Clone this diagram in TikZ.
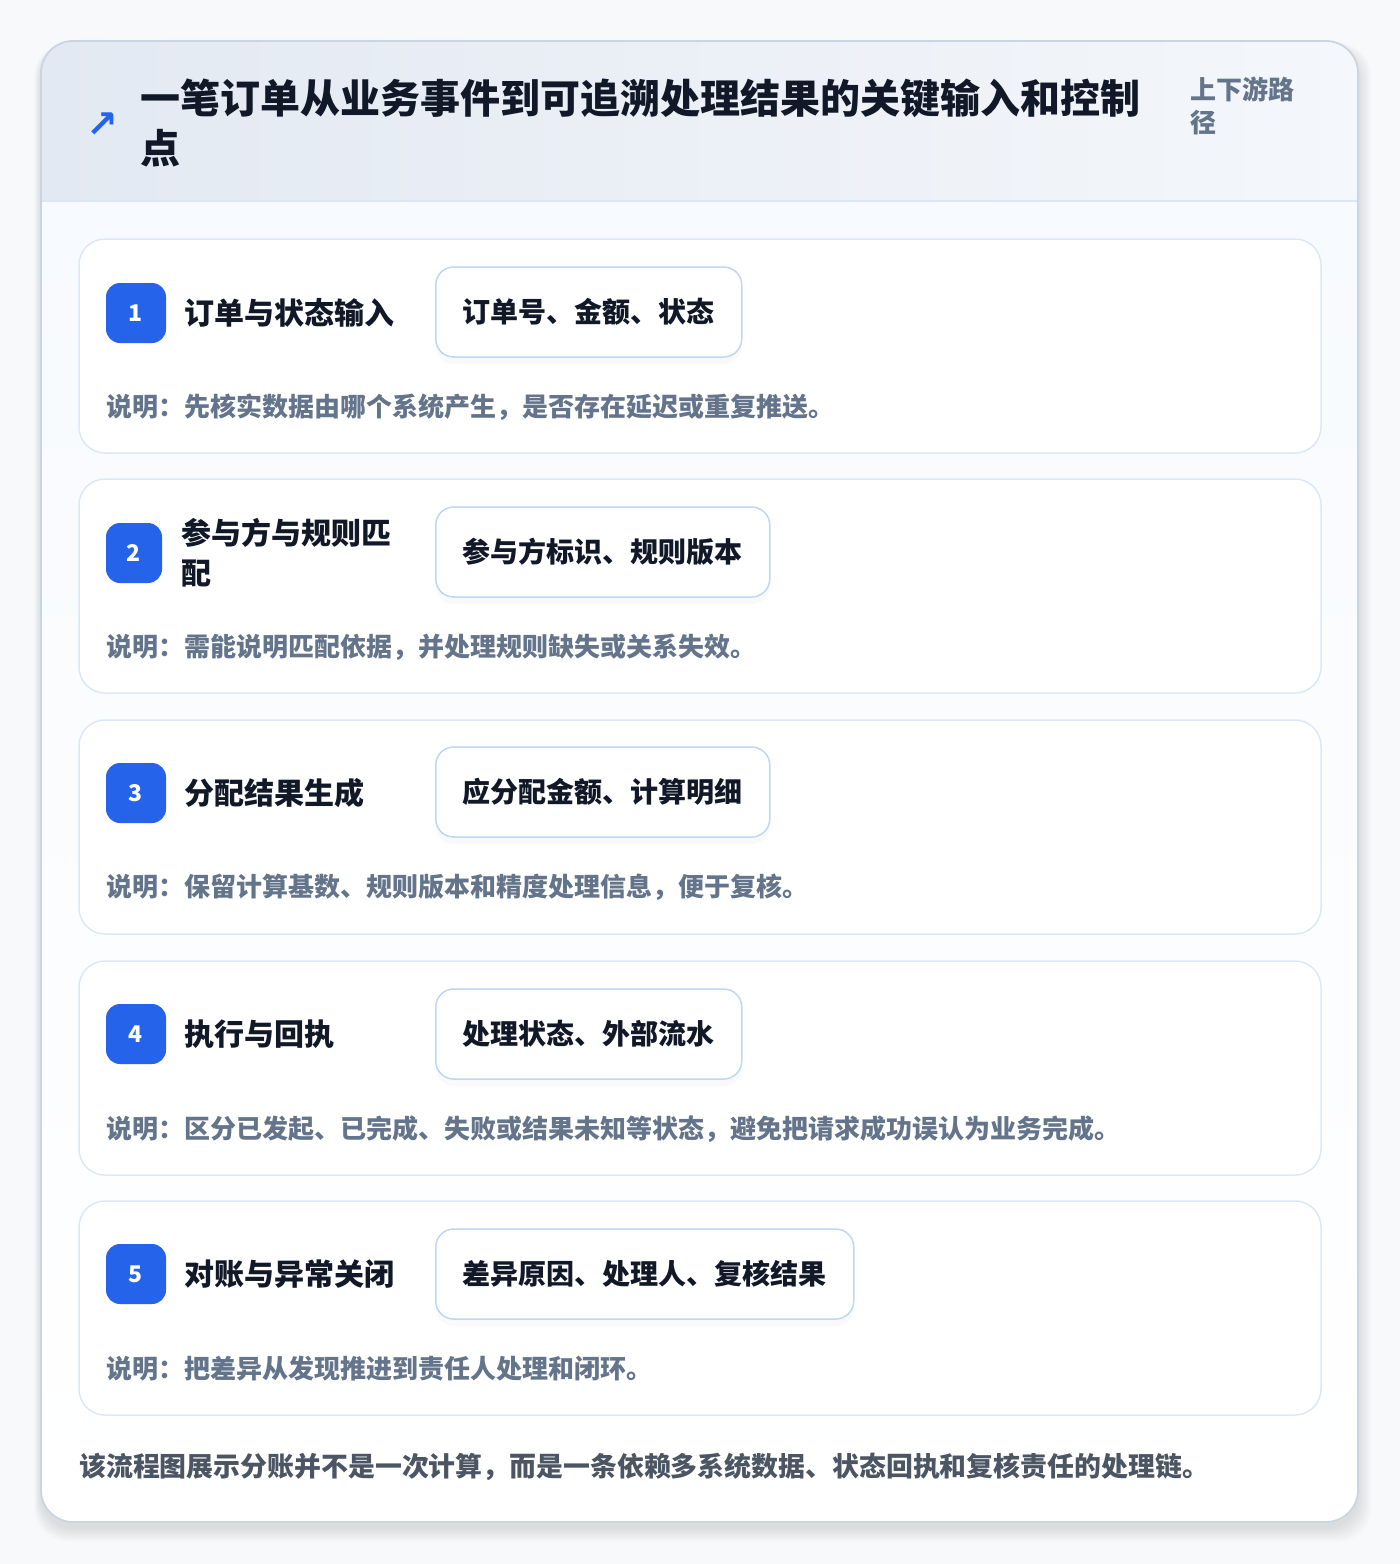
\documentclass[tikz,border=0pt]{standalone}
\usepackage{fontspec}
\setmainfont{Noto Sans CJK SC}
\newfontfamily\symfont{DejaVu Sans}
\usepackage{tikz}
\usetikzlibrary{positioning,shadows}
\definecolor{pagebg}{HTML}{F8F9FA}
\definecolor{cardline}{HTML}{CBD5E1}
\definecolor{headleft}{HTML}{E3E9F2}
\definecolor{headright}{HTML}{F4F7FB}
\definecolor{headline}{HTML}{DBE7F5}
\definecolor{bodytop}{HTML}{F7FAFE}
\definecolor{stepline}{HTML}{DCE8F8}
\definecolor{tagline}{HTML}{BFD6F4}
\definecolor{badgeblue}{HTML}{2563EB}
\definecolor{inkdark}{HTML}{111827}
\definecolor{inkgray}{HTML}{64748B}
\definecolor{inkfoot}{HTML}{4B5563}

\begin{document}
\begin{tikzpicture}[x=1pt,y=-1pt,line cap=round,line join=round,
  stepcard/.style={draw=stepline,line width=1.5pt,fill=white,rounded corners=26pt,minimum width=1242pt,minimum height=214pt},
  badge/.style={fill=badgeblue,rounded corners=14pt,minimum width=60pt,minimum height=60pt,inner sep=0pt,text=white,font=\fontsize{23}{26}\selectfont\bfseries},
  steptitle/.style={anchor=west,inner sep=0pt,align=left,text=inkdark,font=\fontsize{30}{40}\selectfont\bfseries},
  tagbox/.style={anchor=west,draw=tagline,line width=1.5pt,fill=white,rounded corners=18pt,minimum height=90pt,inner xsep=27pt,text=inkdark,font=\fontsize{28}{34}\selectfont\bfseries,drop shadow={shadow xshift=0pt,shadow yshift=-7pt,opacity=0.025,fill=black}},
  stepnote/.style={anchor=west,inner sep=0pt,text=inkgray,font=\fontsize{26}{30}\selectfont\bfseries}]
\useasboundingbox (0,0) rectangle (1400,1564);
\fill[pagebg] (0,0) rectangle (1400,1564);
\foreach \s in {1,...,14}
  \fill[black,opacity=0.006,rounded corners=34pt] (41-\s*0.5,41-\s*0.3+6) rectangle (1358+\s,1522+\s+6);
\begin{scope}
  \clip[rounded corners=32pt] (41,41) rectangle (1358,1522);
  \fill[top color=bodytop,bottom color=white] (41,201) rectangle (1358,1522);
  \fill[left color=headleft,right color=headright] (41,41) rectangle (1358,201);
  \draw[headline,line width=1.5pt] (41,201) -- (1358,201);
\end{scope}
\draw[cardline,line width=1.8pt,rounded corners=32pt] (41,41) rectangle (1358,1522);

\node[text=badgeblue,inner sep=0pt,font=\symfont\bfseries\fontsize{38}{38}\selectfont] (icon) at (102,125) {↗};
\node[anchor=west,inner sep=0pt,align=left,text=inkdark,font=\fontsize{40}{50}\selectfont\bfseries] (title) at (140,123) {一笔订单从业务事件到可追溯处理结果的关键输入和控制\\点};
\node[anchor=west,inner sep=0pt,align=left,text=inkgray,font=\fontsize{26}{33}\selectfont\bfseries] (scope) at (1190,106) {上下游路\\径};

\node[stepcard] (card1) at (700,346) {};
\node[badge] (badge1) at (136,313) {1};
\node[steptitle,right=18pt of badge1] (step1) {订单与状态输入};
\node[tagbox] (tag1) at (435,312) {订单号、金额、状态};
\node[stepnote] (note1) at (106,407) {说明：先核实数据由哪个系统产生，是否存在延迟或重复推送。};

\node[stepcard] (card2) at (700,586) {};
\node[badge,minimum width=56pt] (badge2) at (134,553) {2};
\node[steptitle,right=19pt of badge2] (step2) {参与方与规则匹\\配};
\node[tagbox] (tag2) at (435,552) {参与方标识、规则版本};
\node[stepnote] (note2) at (106,647) {说明：需能说明匹配依据，并处理规则缺失或关系失效。};

\node[stepcard] (card3) at (700,827) {};
\node[badge] (badge3) at (136,793) {3};
\node[steptitle,right=18pt of badge3] (step3) {分配结果生成};
\node[tagbox] (tag3) at (435,792) {应分配金额、计算明细};
\node[stepnote] (note3) at (106,887) {说明：保留计算基数、规则版本和精度处理信息，便于复核。};

\node[stepcard] (card4) at (700,1068) {};
\node[badge] (badge4) at (136,1034) {4};
\node[steptitle,right=18pt of badge4] (step4) {执行与回执};
\node[tagbox] (tag4) at (435,1034) {处理状态、外部流水};
\node[stepnote] (note4) at (106,1129) {说明：区分已发起、已完成、失败或结果未知等状态，避免把请求成功误认为业务完成。};

\node[stepcard] (card5) at (700,1308) {};
\node[badge] (badge5) at (136,1274) {5};
\node[steptitle,right=18pt of badge5] (step5) {对账与异常关闭};
\node[tagbox] (tag5) at (435,1274) {差异原因、处理人、复核结果};
\node[stepnote] (note5) at (106,1369) {说明：把差异从发现推进到责任人处理和闭环。};

\node[anchor=west,inner sep=0pt,text=inkfoot,font=\fontsize{26.9}{32}\selectfont\bfseries] (footer) at (79,1467) {该流程图展示分账并不是一次计算，而是一条依赖多系统数据、状态回执和复核责任的处理链。};
\end{tikzpicture}
\end{document}
